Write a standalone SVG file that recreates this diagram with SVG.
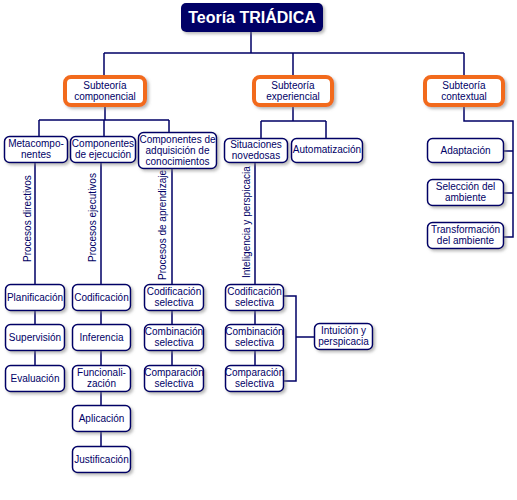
<svg xmlns="http://www.w3.org/2000/svg" width="517" height="500" viewBox="0 0 517 500">
<defs>
<filter id="sh" x="-20%" y="-20%" width="150%" height="160%">
<feDropShadow dx="2" dy="2" stdDeviation="1.5" flood-color="#808080" flood-opacity="0.55"/>
</filter>
</defs>
<style>
.bx{fill:#fff;stroke:#000066;stroke-width:1.5;filter:url(#sh)}
.ob{fill:#fff;stroke:#f26a1b;stroke-width:4;filter:url(#sh)}
.t{font-family:"Liberation Sans",Arial,sans-serif;font-size:10px;fill:#000066;text-anchor:middle}
.r{font-family:"Liberation Sans",Arial,sans-serif;font-size:10px;fill:#000066}
.ln{fill:none;stroke:#000066;stroke-width:1.5}
</style>
<rect width="517" height="500" fill="#fff"/>
<g id="connectors">
<path class="ln" d="M251 32V53M104 53H464M104 53V77M293 53V77M464 53V77"/>
<path class="ln" d="M105 105V120M39 120H169M39 120V136M104 120V136M169 120V132"/>
<path class="ln" d="M293 105V121M261 121H326M261 121V138M326 121V138"/>
<path class="ln" d="M464 105V121H513V237H504M504 151H513M504 193H513"/>
<path class="ln" d="M35 162V366M101 162V447M172 168V366M255 162V366"/>
<path class="ln" d="M284 296H296V381H284M296 337H314"/>
<text class="r" transform="translate(31 262) rotate(-90)">Procesos directivos</text>
<text class="r" transform="translate(96 262) rotate(-90)">Procesos ejecutivos</text>
<text class="r" transform="translate(166 280) rotate(-90)">Procesos de aprendizaje</text>
<text class="r" transform="translate(250 278) rotate(-90)">Inteligencia y perspicacia</text>
</g>
<g id="title">
<rect x="181" y="3" width="142" height="29" rx="5" fill="#000066" filter="url(#sh)"/>
<text x="252" y="23" font-family="Liberation Sans,Arial,sans-serif" font-size="16" font-weight="bold" fill="#fff" text-anchor="middle">Teoría TRIÁDICA</text>
</g>
<g id="sub-componencial"><rect class="ob" x="65" y="77" width="80" height="28" rx="6"/><text class="t" x="105" y="89">Subteoría</text><text class="t" x="105" y="100">componencial</text></g>
<g id="sub-experiencial"><rect class="ob" x="254" y="77" width="78" height="28" rx="6"/><text class="t" x="293" y="89">Subteoría</text><text class="t" x="293" y="100">experiencial</text></g>
<g id="sub-contextual"><rect class="ob" x="425" y="77" width="78" height="28" rx="6"/><text class="t" x="464" y="89">Subteoría</text><text class="t" x="464" y="100">contextual</text></g>
<g id="metacomponentes"><rect class="bx" x="4.5" y="136.5" width="63" height="26" rx="5"/><text class="t" x="36" y="147">Metacompo-</text><text class="t" x="36" y="158">nentes</text></g>
<g id="comp-ejecucion"><rect class="bx" x="70.5" y="136.5" width="65" height="26" rx="5"/><text class="t" x="103" y="147">Componentes</text><text class="t" x="103" y="158">de ejecución</text></g>
<g id="comp-adquisicion"><rect class="bx" x="138.5" y="132.5" width="78" height="36" rx="5"/><text class="t" x="177.5" y="143">Componentes de</text><text class="t" x="177.5" y="154">adquisición de</text><text class="t" x="177.5" y="165">conocimientos</text></g>
<g id="situaciones"><rect class="bx" x="224.5" y="138.5" width="63" height="24" rx="5"/><text class="t" x="256" y="148">Situaciones</text><text class="t" x="256" y="159">novedosas</text></g>
<g id="automatizacion"><rect class="bx" x="291.5" y="138.5" width="71" height="24" rx="5"/><text class="t" x="327" y="153">Automatización</text></g>
<g id="adaptacion"><rect class="bx" x="427.5" y="138.5" width="76" height="24" rx="5"/><text class="t" x="465.5" y="154">Adaptación</text></g>
<g id="seleccion"><rect class="bx" x="427.5" y="179.5" width="76" height="26" rx="5"/><text class="t" x="465.5" y="190">Selección del</text><text class="t" x="465.5" y="201">ambiente</text></g>
<g id="transformacion"><rect class="bx" x="427.5" y="222.5" width="76" height="26" rx="5"/><text class="t" x="465.5" y="233">Transformación</text><text class="t" x="465.5" y="244">del ambiente</text></g>
<g id="planificacion"><rect class="bx" x="5.5" y="284.5" width="59" height="26" rx="5"/><text class="t" x="35" y="301">Planificación</text></g>
<g id="supervision"><rect class="bx" x="5.5" y="324.5" width="59" height="26" rx="5"/><text class="t" x="35" y="341">Supervisión</text></g>
<g id="evaluacion"><rect class="bx" x="5.5" y="365.5" width="59" height="26" rx="5"/><text class="t" x="35" y="382">Evaluación</text></g>
<g id="codificacion"><rect class="bx" x="72.5" y="284.5" width="58" height="26" rx="5"/><text class="t" x="101.5" y="301">Codificación</text></g>
<g id="inferencia"><rect class="bx" x="72.5" y="324.5" width="58" height="26" rx="5"/><text class="t" x="101.5" y="341">Inferencia</text></g>
<g id="funcionalizacion"><rect class="bx" x="72.5" y="365.5" width="58" height="26" rx="5"/><text class="t" x="101.5" y="376">Funcionali-</text><text class="t" x="101.5" y="387">zación</text></g>
<g id="aplicacion"><rect class="bx" x="72.5" y="405.5" width="58" height="26" rx="5"/><text class="t" x="101.5" y="422">Aplicación</text></g>
<g id="justificacion"><rect class="bx" x="72.5" y="446.5" width="58" height="26" rx="5"/><text class="t" x="101.5" y="463">Justificación</text></g>
<g id="cod-sel-a"><rect class="bx" x="144.5" y="284.5" width="59" height="26" rx="5"/><text class="t" x="174" y="295">Codificación</text><text class="t" x="174" y="306">selectiva</text></g>
<g id="comb-sel-a"><rect class="bx" x="144.5" y="324.5" width="59" height="26" rx="5"/><text class="t" x="174" y="335">Combinación</text><text class="t" x="174" y="346">selectiva</text></g>
<g id="comp-sel-a"><rect class="bx" x="144.5" y="365.5" width="59" height="26" rx="5"/><text class="t" x="174" y="376">Comparación</text><text class="t" x="174" y="387">selectiva</text></g>
<g id="cod-sel-b"><rect class="bx" x="225.5" y="284.5" width="58" height="26" rx="5"/><text class="t" x="254.5" y="295">Codificación</text><text class="t" x="254.5" y="306">selectiva</text></g>
<g id="comb-sel-b"><rect class="bx" x="225.5" y="324.5" width="58" height="26" rx="5"/><text class="t" x="254.5" y="335">Combinación</text><text class="t" x="254.5" y="346">selectiva</text></g>
<g id="comp-sel-b"><rect class="bx" x="225.5" y="365.5" width="58" height="26" rx="5"/><text class="t" x="254.5" y="376">Comparación</text><text class="t" x="254.5" y="387">selectiva</text></g>
<g id="intuicion"><rect class="bx" x="314.5" y="323.5" width="58" height="26" rx="5"/><text class="t" x="343.5" y="334">Intuición y</text><text class="t" x="343.5" y="345">perspicacia</text></g>
</svg>
